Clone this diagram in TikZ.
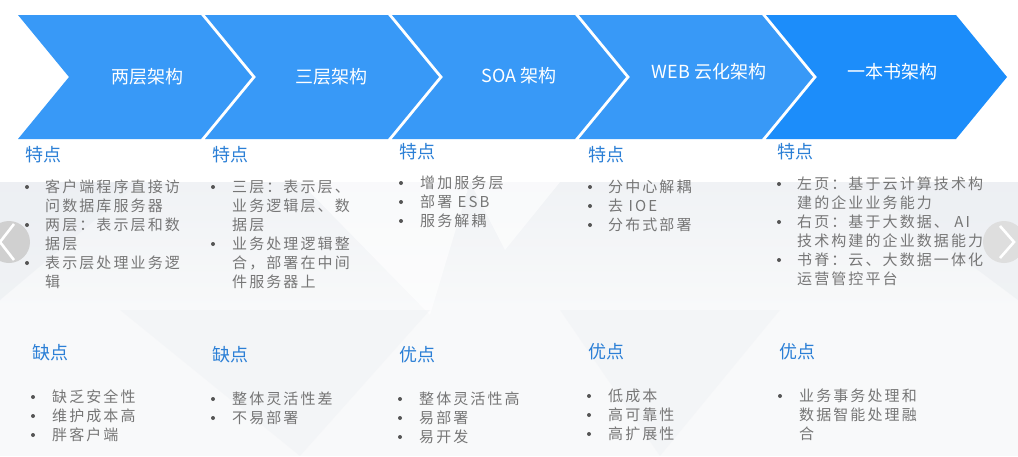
\documentclass[tikz,border=0pt]{standalone}
\usepackage{fontspec}
\newfontfamily\cjk{Noto Sans CJK SC}
\newfontfamily\cjkbody[LetterSpace=14]{Noto Sans CJK SC}
\definecolor{chev}{RGB}{56,153,247}
\definecolor{chevdark}{RGB}{28,141,250}
\definecolor{headc}{RGB}{43,127,214}
\definecolor{bodyc}{RGB}{118,118,118}
\definecolor{dotc}{RGB}{85,85,85}
\definecolor{bga}{RGB}{240,242,245}
\definecolor{bgb}{RGB}{248,249,250}
\definecolor{bgc}{RGB}{235,238,242}
\definecolor{btnl}{RGB}{208,208,208}
\definecolor{btnr}{RGB}{222,222,222}
\begin{document}
\begin{tikzpicture}[x=1pt,y=-1pt,
  chevron/.style={fill=chev, draw=none},
  ttl/.style={font=\cjk\fontsize{18}{21}\selectfont, text=white, inner sep=0},
  hdr/.style={font=\cjk\fontsize{18}{21}\selectfont, text=headc, anchor=west, inner sep=0},
  txt/.style={font=\cjkbody\fontsize{15}{19}\selectfont, text=bodyc, anchor=west, inner sep=0, text height=11pt, text depth=2pt},
  dot/.style={circle, fill=dotc, inner sep=0, minimum size=4pt},
  btn/.style={circle, inner sep=0, minimum size=42pt},
  arr/.style={draw=white, line width=2.6pt},
]
\useasboundingbox (0,0) rectangle (1018,456);
\fill[white] (0,0) rectangle (1018,456);
% faint low-poly background
\shade[top color=bga, bottom color=bgb] (0,182) rectangle (1018,310);
\fill[bgb] (0,310) rectangle (1018,456);
\fill[white, opacity=0.6] (300,182) -- (470,182) -- (430,315) -- cycle;
\fill[white, opacity=0.6] (470,182) -- (560,182) -- (505,250) -- cycle;
\fill[bgc, opacity=0.6] (0,182) -- (140,182) -- (0,300) -- cycle;
\fill[bgc, opacity=0.6] (860,182) -- (1018,182) -- (1018,300) -- cycle;
\fill[bga, opacity=0.5] (120,310) -- (430,310) -- (300,456) -- cycle;
\fill[bga, opacity=0.5] (560,310) -- (780,310) -- (660,456) -- cycle;
% chevrons
\fill[chevron] (18,15) -- (201,15) -- (252,77) -- (201,139) -- (18,139) -- (69,77) -- cycle;
\fill[chevron] (205,15) -- (388,15) -- (439,77) -- (388,139) -- (205,139) -- (256,77) -- cycle;
\fill[chevron] (392,15) -- (575,15) -- (626,77) -- (575,139) -- (392,139) -- (443,77) -- cycle;
\fill[chevron] (579,15) -- (762,15) -- (813,77) -- (762,139) -- (579,139) -- (630,77) -- cycle;
\fill[chevron, fill=chevdark] (766,15) -- (956,15) -- (1007,77) -- (956,139) -- (766,139) -- (817,77) -- cycle;
\node[ttl] (t1) at (147,77) {两层架构};
\node[ttl] (t2) at (331,77) {三层架构};
\node[ttl] (t3) at (519,76) {SOA 架构};
\node[ttl] (t4) at (709,72) {WEB 云化架构};
\node[ttl] (t5) at (892,72) {一本书架构};
% carousel buttons
\node[btn, fill=btnl] (bl) at (9,242) {};
\coordinate (bla) at (14,224);
\coordinate (blb) at (0,242);
\coordinate (blc) at (14,260);
\draw[arr] (bla) -- (blb) -- (blc);
\node[btn, fill=btnr] (br) at (1004,242) {};
\coordinate (bra) at (1000,226);
\coordinate (brb) at (1014,242);
\coordinate (brc) at (1000,258);
\draw[arr] (bra) -- (brb) -- (brc);
% headers
\node[hdr] (h1) at (25,155) {特点};
\node[hdr] (h2) at (212,155) {特点};
\node[hdr] (h3) at (399,152) {特点};
\node[hdr] (h4) at (588,155) {特点};
\node[hdr] (h5) at (777,152) {特点};
\node[hdr] (g1) at (32,353) {缺点};
\node[hdr] (g2) at (212,355) {缺点};
\node[hdr] (g3) at (399,355) {优点};
\node[hdr] (g4) at (588,352) {优点};
\node[hdr] (g5) at (779,352) {优点};
% column 1 top
\node[dot] (d11) at (27,187) {};
\node[txt] (a11) at (45,188) {客户端程序直接访};
\node[txt] (a12) at (45,207) {问数据库服务器};
\node[dot] (d12) at (27,225) {};
\node[txt] (a13) at (45,226) {两层：表示层和数};
\node[txt] (a14) at (45,245) {据层};
\node[dot] (d13) at (27,263) {};
\node[txt] (a15) at (45,264) {表示层处理业务逻};
\node[txt] (a16) at (45,283) {辑};
% column 2 top
\node[dot] (d21) at (213,187) {};
\node[txt] (a21) at (232,188) {三层：表示层、};
\node[txt] (a22) at (232,207) {业务逻辑层、数};
\node[txt] (a23) at (232,226) {据层};
\node[dot] (d22) at (213,244) {};
\node[txt] (a24) at (232,245) {业务处理逻辑整};
\node[txt] (a25) at (232,264) {合，部署在中间};
\node[txt] (a26) at (232,283) {件服务器上};
% column 3 top
\node[dot] (d31) at (401,183) {};
\node[txt] (a31) at (420,184) {增加服务层};
\node[dot] (d32) at (401,202) {};
\node[txt] (a32) at (420,203) {部署 ESB};
\node[dot] (d33) at (401,221) {};
\node[txt] (a33) at (420,222) {服务解耦};
% column 4 top
\node[dot] (d41) at (590,187) {};
\node[txt] (a41) at (608,188) {分中心解耦};
\node[dot] (d42) at (590,206) {};
\node[txt] (a42) at (608,207) {去 IOE};
\node[dot] (d43) at (590,225) {};
\node[txt] (a43) at (608,226) {分布式部署};
% column 5 top
\node[dot] (d51) at (779,184) {};
\node[txt] (a51) at (797,185) {左页：基于云计算技术构};
\node[txt] (a52) at (797,204) {建的企业业务能力};
\node[dot] (d52) at (779,222) {};
\node[txt] (a53) at (797,223) {右页：基于大数据、 AI};
\node[txt] (a54) at (797,242) {技术构建的企业数据能力};
\node[dot] (d53) at (779,260) {};
\node[txt] (a55) at (797,261) {书脊：云、大数据一体化};
\node[txt] (a56) at (797,280) {运营管控平台};
% bottom column 1
\node[dot] (e11) at (33,397) {};
\node[txt] (b11) at (52,398) {缺乏安全性};
\node[dot] (e12) at (33,416) {};
\node[txt] (b12) at (52,417) {维护成本高};
\node[dot] (e13) at (33,435) {};
\node[txt] (b13) at (52,436) {胖客户端};
% bottom column 2
\node[dot] (e21) at (213,399) {};
\node[txt] (b21) at (232,400) {整体灵活性差};
\node[dot] (e22) at (213,418) {};
\node[txt] (b22) at (232,419) {不易部署};
% bottom column 3
\node[dot] (e31) at (400,399) {};
\node[txt] (b31) at (419,400) {整体灵活性高};
\node[dot] (e32) at (400,418) {};
\node[txt] (b32) at (419,419) {易部署};
\node[dot] (e33) at (400,437) {};
\node[txt] (b33) at (419,438) {易开发};
% bottom column 4
\node[dot] (e41) at (589,396) {};
\node[txt] (b41) at (608,397) {低成本};
\node[dot] (e42) at (589,415) {};
\node[txt] (b42) at (608,416) {高可靠性};
\node[dot] (e43) at (589,434) {};
\node[txt] (b43) at (608,435) {高扩展性};
% bottom column 5
\node[dot] (e51) at (780,396) {};
\node[txt] (b51) at (799,397) {业务事务处理和};
\node[txt] (b52) at (799,416) {数据智能处理融};
\node[txt] (b53) at (799,435) {合};
\end{tikzpicture}
\end{document}
